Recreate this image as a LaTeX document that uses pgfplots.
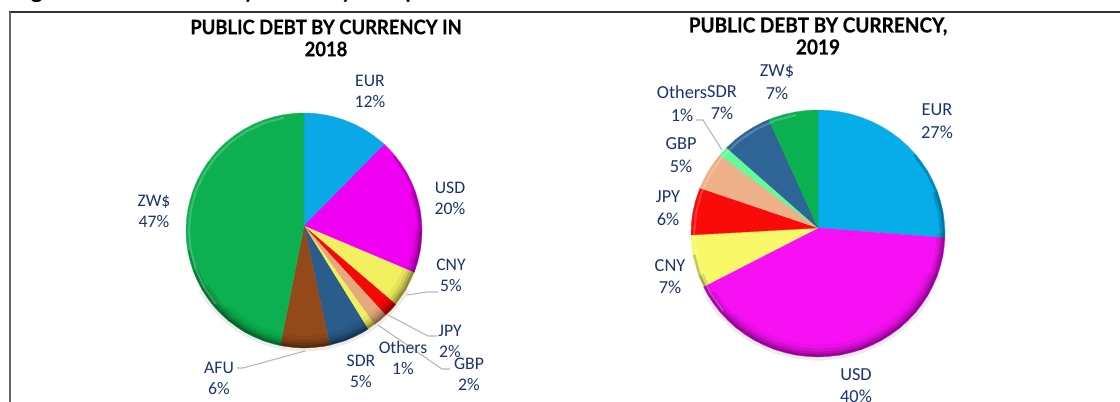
\documentclass[border=0pt]{standalone}
\usepackage{fontspec}
\setmainfont{Carlito}
\newfontfamily\titlefont[FakeStretch=.92,BoldFeatures={FakeBold=.4}]{Lato}
\newfontfamily\headfont{Lato}
\usepackage{pgfplots}
\usepackage{pgfplotstable}
\pgfplotsset{compat=1.18}
\definecolor{labc}{HTML}{1B3370}
\definecolor{lead}{HTML}{B5B5B5}
\definecolor{aEUR}{HTML}{0AA8E6}
\definecolor{aUSD}{HTML}{F000F2}
\definecolor{aCNY}{HTML}{F2F060}
\definecolor{aJPY}{HTML}{F50808}
\definecolor{aGBP}{HTML}{E6A97C}
\definecolor{aSDR}{HTML}{2A5C8C}
\definecolor{aAFU}{HTML}{93491A}
\definecolor{aZWD}{HTML}{0DB050}
\definecolor{bEUR}{HTML}{06ADE8}
\definecolor{bUSD}{HTML}{F810F5}
\definecolor{bCNY}{HTML}{F8F868}
\definecolor{bJPY}{HTML}{FB0A0A}
\definecolor{bGBP}{HTML}{EDB088}
\definecolor{bOTH}{HTML}{66F99A}
\definecolor{bSDR}{HTML}{2F6496}
\definecolor{bZWD}{HTML}{0BB050}
\tikzset{
  lab/.style={text=labc,align=center,font=\fontsize{13.25}{15.75}\selectfont,inner sep=0pt},
  labb/.style={text=labc,align=center,font=\fontsize{13.75}{17}\selectfont,inner sep=0pt},
  ttl/.style={text=black,align=center,inner sep=0pt,font=\titlefont\bfseries\fontsize{15}{16.5}\selectfont},
  ttlb/.style={text=black,align=center,inner sep=0pt,font=\titlefont\bfseries\fontsize{15.5}{16.5}\selectfont}}
\pgfplotstableread{
a r
-135 .95
-130 .95
-120 .95
-110 .95
-100 .95
-90 .95
-80 .95
-70 .95
-60 .95
-50 .95
-40 .95
-30 .95
-20 .95
}\bandA
\pgfplotstableread{
a r
-150 .967
-140 .967
-130 .967
-120 .967
-110 .967
-100 .967
-90 .967
-80 .967
-70 .967
-60 .967
-50 .967
-40 .967
-30 .967
-20 .967
-10 .967
0 .967
}\bandB
\pgfplotstableread{
a r
-160 .979
-150 .979
-140 .979
-130 .979
-120 .979
-110 .979
-100 .979
-90 .979
-80 .979
-70 .979
-60 .979
-50 .979
-40 .979
-30 .979
-20 .979
-10 .979
0 .979
10 .979
20 .979
}\bandC
\pgfplotstableread{
a r
-170 .99
-160 .99
-150 .99
-140 .99
-130 .99
-120 .99
-110 .99
-100 .99
-90 .99
-80 .99
-70 .99
-60 .99
-50 .99
-40 .99
-30 .99
-20 .99
-10 .99
0 .99
10 .99
20 .99
30 .99
40 .99
}\bandD
\pgfplotstableread{
a r
100 .975
110 .975
120 .975
130 .975
140 .975
150 .975
160 .975
170 .975
180 .975
190 .975
200 .975
210 .975
220 .975
}\bandL
\pgfplotstableread{
a r
-150 1.015
-140 1.015
-130 1.015
-120 1.015
-110 1.015
-100 1.015
-90 1.015
-80 1.015
-70 1.015
-60 1.015
-50 1.015
-40 1.015
-30 1.015
}\bandS
\pgfplotsset{pie/.style={scale only axis,hide axis,anchor=center,xmin=-1,xmax=1,ymin=-1,ymax=1,clip=false,data cs=polar}}
\newcommand{\rimbands}{%
  \addplot[black,opacity=.05,line width=9pt,line join=round] table[x=a,y=r] {\bandA};
  \addplot[black,opacity=.09,line width=6pt,line join=round] table[x=a,y=r] {\bandB};
  \addplot[black,opacity=.14,line width=3.75pt,line join=round] table[x=a,y=r] {\bandC};
  \addplot[black,opacity=.2,line width=1.9pt,line join=round] table[x=a,y=r] {\bandD};
  \addplot[white,opacity=.2,line width=1.5pt,line join=round] table[x=a,y=r] {\bandL};
}
\begin{document}
\begin{tikzpicture}
\path[use as bounding box] (0,0) rectangle (840pt,301.5pt);
\clip (0,0) rectangle (840pt,301.5pt);
% 2018 pie
\begin{axis}[pie,at={(228pt,128.625pt)},width=177pt,height=176.25pt]
\addplot[gray,opacity=.15,line width=3pt] table[x=a,y=r] {\bandS};
\addplot[fill=aEUR,draw=aEUR,line width=.2pt] coordinates {(90,.038)(90,1)(85,1)(80,1)(75,1)(70,1)(65,1)(60,1)(55,1)(50,1)(47,1)(90,.038)};
\addplot[fill=aUSD,draw=aUSD,line width=.2pt] coordinates {(90,.038)(47,1)(45,1)(40,1)(35,1)(30,1)(25,1)(20,1)(15,1)(10,1)(5,1)(0,1)(-5,1)(-10,1)(-15,1)(-21,1)(90,.038)};
\addplot[fill=aCNY,draw=aCNY,line width=.2pt] coordinates {(90,.038)(-21,1)(-25,1)(-30,1)(-35,1)(-39,1)(90,.038)};
\addplot[fill=aJPY,draw=aJPY,line width=.2pt] coordinates {(90,.038)(-39,1)(-43,1)(-46.2,1)(90,.038)};
\addplot[fill=aGBP,draw=aGBP,line width=.2pt] coordinates {(90,.038)(-46.2,1)(-50,1)(-53.3,1)(90,.038)};
\addplot[fill=aCNY,draw=aCNY,line width=.2pt] coordinates {(90,.038)(-53.3,1)(-55,1)(-57.2,1)(90,.038)};
\addplot[fill=aSDR,draw=aSDR,line width=.2pt] coordinates {(90,.038)(-57.2,1)(-60,1)(-65,1)(-70,1)(-77.4,1)(90,.038)};
\addplot[fill=aAFU,draw=aAFU,line width=.2pt] coordinates {(90,.038)(-77.4,1)(-80,1)(-85,1)(-90,1)(-95,1)(-101.6,1)(90,.038)};
\addplot[fill=aZWD,draw=aZWD,line width=.2pt] coordinates {(90,.038)(258.4,1)(255,1)(250,1)(245,1)(240,1)(235,1)(230,1)(225,1)(220,1)(215,1)(210,1)(205,1)(200,1)(195,1)(190,1)(185,1)(180,1)(175,1)(170,1)(165,1)(160,1)(155,1)(150,1)(145,1)(140,1)(135,1)(130,1)(125,1)(120,1)(115,1)(110,1)(105,1)(100,1)(95,1)(90,1)(90,.038)};
\rimbands
\end{axis}
% 2019 pie
\begin{axis}[pie,at={(613.5pt,126.375pt)},width=190.5pt,height=185.25pt]
\addplot[gray,opacity=.15,line width=3pt] table[x=a,y=r] {\bandS};
\addplot[fill=bEUR,draw=bEUR,line width=.2pt] coordinates {(90,.045)(90,1)(85,1)(80,1)(75,1)(70,1)(65,1)(60,1)(55,1)(50,1)(45,1)(40,1)(35,1)(30,1)(25,1)(20,1)(15,1)(10,1)(5,1)(0,1)(-2,1)(90,.045)};
\addplot[fill=bUSD,draw=bUSD,line width=.2pt] coordinates {(90,.045)(-2,1)(-5,1)(-10,1)(-15,1)(-20,1)(-25,1)(-30,1)(-35,1)(-40,1)(-45,1)(-50,1)(-55,1)(-60,1)(-65,1)(-70,1)(-75,1)(-80,1)(-85,1)(-90,1)(-95,1)(-100,1)(-105,1)(-110,1)(-115,1)(-120,1)(-125,1)(-130,1)(-135,1)(-140,1)(-145,1)(-150,1)(-154.5,1)(90,.045)};
\addplot[fill=bCNY,draw=bCNY,line width=.2pt] coordinates {(90,.045)(205.5,1)(200,1)(195,1)(190,1)(185,1)(180.7,1)(90,.045)};
\addplot[fill=bJPY,draw=bJPY,line width=.2pt] coordinates {(90,.045)(180.7,1)(175,1)(170,1)(165,1)(158.4,1)(90,.045)};
\addplot[fill=bGBP,draw=bGBP,line width=.2pt] coordinates {(90,.045)(158.4,1)(155,1)(150,1)(145,1)(140.6,1)(90,.045)};
\addplot[fill=bOTH,draw=bOTH,line width=.2pt] coordinates {(90,.045)(140.6,1)(138,1)(136,1)(90,.045)};
\addplot[fill=bSDR,draw=bSDR,line width=.2pt] coordinates {(90,.045)(136,1)(130,1)(125,1)(120,1)(115,1)(112.8,1)(90,.045)};
\addplot[fill=bZWD,draw=bZWD,line width=.2pt] coordinates {(90,.045)(112.8,1)(110,1)(105,1)(100,1)(95,1)(90,1)(90,.045)};
\rimbands
\end{axis}
% frame, leaders, labels in image pixels
\begin{axis}[scale only axis,hide axis,at={(0pt,0pt)},anchor=south west,width=840pt,height=301.5pt,
  xmin=0,xmax=1120,ymin=0,ymax=402,y dir=reverse,clip=false]
\addplot[color=black!80,line width=1.5pt] coordinates {(9,12)(1120,12)};
\addplot[color=black!60,line width=1.6pt] coordinates {(10,12)(10,402)};
\addplot[lead,line width=.8pt] coordinates {(407,295)(427,292)(438,292)};
\addplot[lead,line width=.8pt] coordinates {(388,315)(428,336)(437,336)};
\addplot[lead,line width=.8pt] coordinates {(378,325)(442,369)(450,369)};
\addplot[lead,line width=.8pt] coordinates {(305,351)(243,368)(237,368)};
\addplot[lead,line width=.8pt] coordinates {(722,150)(703,120)(696,120)};
\node[anchor=base west,inner sep=0pt,font=\headfont\bfseries\fontsize{17}{20}\selectfont] at (axis cs:12,-1.5) {Figure 3: Public Debt by Currency Composition};
\node[ttl] at (axis cs:326,38) {PUBLIC DEBT BY CURRENCY IN\\2018};
\node[ttlb] at (axis cs:818,36) {PUBLIC DEBT BY CURRENCY,\\2019};
\node[lab] at (axis cs:370,91.5) {EUR\\12\%};
\node[lab] at (axis cs:450,198.5) {USD\\20\%};
\node[lab] at (axis cs:451,275) {CNY\\5\%};
\node[lab] at (axis cs:450,341.5) {JPY\\2\%};
\node[lab] at (axis cs:469,374.5) {GBP\\2\%};
\node[lab] at (axis cs:403,357.5) {Others\\1\%};
\node[lab] at (axis cs:361,371) {SDR\\5\%};
\node[lab] at (axis cs:219,378.5) {AFU\\6\%};
\node[lab] at (axis cs:154,211.5) {ZW\$\\47\%};
\node[labb] at (axis cs:937,121.5) {EUR\\27\%};
\node[labb] at (axis cs:856,385.5) {USD\\40\%};
\node[labb] at (axis cs:670,276.5) {CNY\\7\%};
\node[labb] at (axis cs:668,208) {JPY\\6\%};
\node[labb] at (axis cs:681,155) {GBP\\5\%};
\node[labb] at (axis cs:682,103.5) {Others\\1\%};
\node[labb] at (axis cs:722,102.5) {SDR\\7\%};
\node[labb] at (axis cs:777,82.5) {ZW\$\\7\%};
\end{axis}
\end{tikzpicture}
\end{document}
